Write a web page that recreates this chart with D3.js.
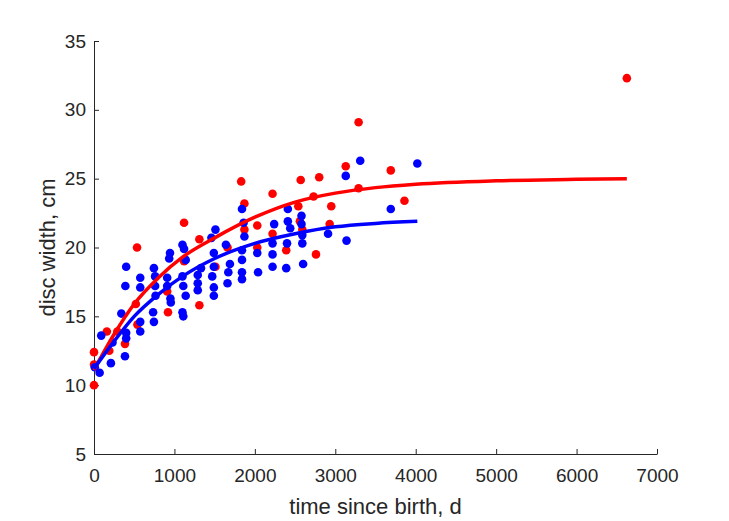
<!DOCTYPE html>
<html><head><meta charset="utf-8">
<script src="https://cdn.jsdelivr.net/npm/d3@7"></script>
<style>body{margin:0;background:#fff;} svg{display:block;}</style>
</head><body>
<svg id="c" width="729" height="521"></svg>
<script>
const xTicks = [0,1000,2000,3000,4000,5000,6000,7000];
const yTicks = [5,10,15,20,25,30,35];

const redT = [0,0,0,160,290,190,385,535,520,540,910,920,1120,1120,1310,1310,1510,1660,1830,1870,1870,2030,2030,2220,2220,2390,2540,2570,2590,2560,2730,2800,2760,2950,2930,3130,3290,3290,3690,3860,6625];
const redY = [10.0,12.4,11.5,13.9,13.9,12.5,13.0,20.0,15.9,14.4,16.8,15.3,21.8,19.0,20.6,15.8,18.6,20.0,24.8,23.2,21.3,21.6,20.0,23.9,21.0,19.8,23.0,24.9,21.3,21.9,23.7,25.1,19.5,23.0,21.7,25.9,24.3,29.1,25.6,23.4,32.3];

const blueT = [10,70,90,210,230,340,385,390,400,400,400,575,575,575,575,745,760,760,765,735,745,910,910,935,945,950,955,1100,1120,1140,1100,1110,1140,1100,1110,1290,1290,1290,1330,1460,1510,1490,1490,1470,1490,1490,1640,1690,1670,1660,1840,1860,1870,1840,1840,1840,1840,2030,2040,2240,2220,2220,2220,2390,2410,2410,2440,2400,2580,2580,2590,2590,2600,2910,3140,3130,3310,3690,4020];
const blueY = [11.3,10.9,13.6,11.6,13.1,15.2,12.1,17.2,18.6,13.8,13.4,17.8,17.1,14.6,13.9,18.5,17.9,17.2,16.5,15.3,14.6,17.8,17.2,19.2,19.6,16.3,16.0,20.2,19.9,19.1,17.9,17.2,16.5,15.3,15.0,18.0,17.4,16.9,18.5,20.7,21.3,19.6,18.6,17.9,17.1,16.5,20.2,18.8,18.2,17.4,22.8,21.8,20.8,19.8,19.1,18.2,17.7,19.6,18.2,21.7,20.3,19.5,18.6,18.5,22.8,21.9,21.4,20.3,22.3,21.7,20.9,20.3,18.8,21.0,20.5,25.2,26.3,22.8,26.1];

const redFitT = [0,250,500,800,1100,1500,2000,2500,3000,3500,4000,5000,6000,6625];
const redFitY = [11.1,13.7,15.9,17.8,19.3,20.7,22.2,23.3,23.95,24.35,24.6,24.85,24.95,25.0];
const blueFitT = [0,200,500,800,1100,1500,2000,2500,3000,3500,4020];
const blueFitY = [11.2,12.8,15.0,16.6,17.9,19.2,20.3,21.0,21.5,21.75,21.9];

const svg = d3.select('#c');
const L=94,R=657,T=41,B=454;
const x = d3.scaleLinear().domain([0,7000]).range([L,R]);
const y = d3.scaleLinear().domain([5,35]).range([B,T]);
const axCol = '#262626';
const font = 'Liberation Sans, Arial, Helvetica, sans-serif';

const gx = svg.append('g').attr('transform',`translate(0,${B})`)
  .call(d3.axisBottom(x).tickValues(xTicks).tickSizeInner(-5).tickSizeOuter(0).tickPadding(15).tickFormat(d3.format('d')));
const gy = svg.append('g').attr('transform',`translate(${L},0)`)
  .call(d3.axisLeft(y).tickValues(yTicks).tickSizeInner(-5).tickSizeOuter(0).tickPadding(8));
[gx,gy].forEach(g=>{
  g.select('.domain').attr('stroke',axCol).attr('stroke-width',1);
  g.selectAll('.tick line').attr('stroke',axCol);
  g.selectAll('.tick text').attr('fill',axCol).attr('font-family',font).attr('font-size',19);
});

svg.append('text').attr('x',(L+R)/2).attr('y',514).attr('text-anchor','middle')
  .attr('font-family',font).attr('font-size',22).attr('fill',axCol).text('time since birth, d');
svg.append('text').attr('transform',`translate(55,${(T+B)/2}) rotate(-90)`).attr('text-anchor','middle')
  .attr('font-family',font).attr('font-size',22).attr('fill',axCol).text('disc width, cm');

const red = redT.map((t,i)=>[t,redY[i]]);
const blue = blueT.map((t,i)=>[t,blueY[i]]);
svg.append('g').selectAll('circle').data(red).join('circle')
  .attr('cx',d=>x(d[0])).attr('cy',d=>y(d[1])).attr('r',4.3).attr('fill','#ff0000');
svg.append('g').selectAll('circle').data(blue).join('circle')
  .attr('cx',d=>x(d[0])).attr('cy',d=>y(d[1])).attr('r',4.3).attr('fill','#0000ff');

const line = d3.line().x(d=>x(d[0])).y(d=>y(d[1])).curve(d3.curveMonotoneX);
svg.append('path').datum(redFitT.map((t,i)=>[t,redFitY[i]])).attr('d',line)
  .attr('fill','none').attr('stroke','#ff0000').attr('stroke-width',3.5);
svg.append('path').datum(blueFitT.map((t,i)=>[t,blueFitY[i]])).attr('d',line)
  .attr('fill','none').attr('stroke','#0000ff').attr('stroke-width',3.5);
</script>
</body></html>
